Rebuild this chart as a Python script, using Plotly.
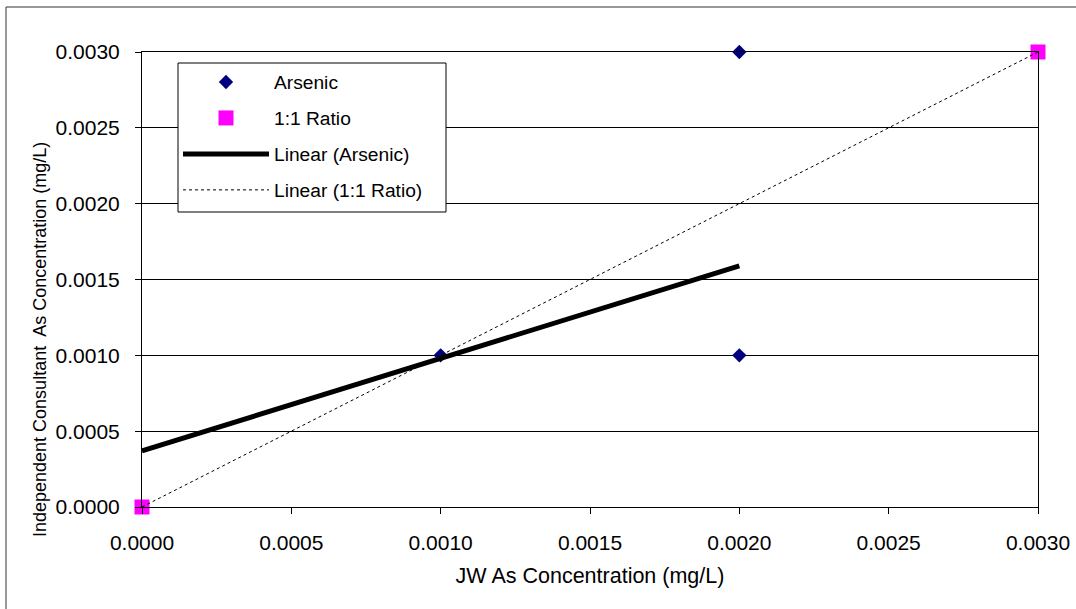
import plotly.graph_objects as go

# Data
arsenic_x = [0.0010, 0.0020, 0.0020]
arsenic_y = [0.0010, 0.0030, 0.0010]
ratio_x = [0.0000, 0.0030]
ratio_y = [0.0000, 0.0030]
trend_arsenic_x = [0.0000, 0.0020]
trend_arsenic_y = [0.00037, 0.00159]
trend_ratio_x = [0.0000, 0.0030]
trend_ratio_y = [0.0000, 0.0030]
tick_vals = [0.0, 0.0005, 0.0010, 0.0015, 0.0020, 0.0025, 0.0030]

FONT = "Liberation Sans, Arial, sans-serif"

fig = go.Figure()
fig.add_trace(go.Scatter(x=arsenic_x, y=arsenic_y, mode="markers", name="Arsenic",
                         legendgroup="a", cliponaxis=False,
                         marker=dict(symbol="diamond", size=11, color="#000080")))
fig.add_trace(go.Scatter(x=ratio_x, y=ratio_y, mode="markers", name="1:1 Ratio",
                         legendgroup="b", cliponaxis=False,
                         marker=dict(symbol="square", size=15, color="#FF00FF")))
fig.add_trace(go.Scatter(x=trend_arsenic_x, y=trend_arsenic_y, mode="lines",
                         name="Linear (Arsenic)", legendgroup="c", cliponaxis=False,
                         line=dict(color="black", width=5)))
fig.add_trace(go.Scatter(x=trend_ratio_x, y=trend_ratio_y, mode="lines",
                         name="Linear (1:1 Ratio)", legendgroup="d", cliponaxis=False,
                         line=dict(color="black", width=1, dash="dot")))

axis_common = dict(
    range=[0, 0.003], tickvals=tick_vals, tickformat=".4f",
    showline=True, linecolor="black", linewidth=1, mirror=True,
    ticks="outside", ticklen=6, tickcolor="black",
    tickfont=dict(family=FONT, size=21, color="black"),
    zeroline=False, automargin=False,
)

fig.update_xaxes(**axis_common, showgrid=False, ticklabelstandoff=11,
                 title=dict(text="JW As Concentration (mg/L)",
                            font=dict(family=FONT, size=21.5, color="black"),
                            standoff=14))
fig.update_yaxes(**axis_common, showgrid=True, gridcolor="black", gridwidth=1,
                 ticklabelstandoff=11)

L, T = 142, 52
PW, PH = 896, 455
W, H = 1076, 609


def px_x(p):
    return (p - L) / PW


def px_y(p):
    return (T + PH - p) / PH


# y-axis title (placed like the reference, centred lower than the plot area)
fig.add_annotation(text="Independent Consultant  As Concentration (mg/L)",
                   xref="paper", yref="paper", x=px_x(40), y=px_y(340),
                   textangle=-90, showarrow=False, xanchor="center", yanchor="middle",
                   font=dict(family=FONT, size=18, color="black"))

# outer chart border (top and left edges visible)
fig.add_shape(type="rect", xref="paper", yref="paper",
              x0=px_x(6), x1=1.2, y0=-0.4, y1=px_y(7),
              line=dict(color="#333333", width=1), layer="below")

# legend box
fig.add_shape(type="rect", xref="paper", yref="paper",
              x0=px_x(178), x1=px_x(446), y0=px_y(212), y1=px_y(63),
              line=dict(color="black", width=1), fillcolor="white", layer="above")

fig.update_layout(
    width=W, height=H,
    margin=dict(l=L, r=W - L - PW, t=T, b=H - T - PH, autoexpand=False),
    paper_bgcolor="white", plot_bgcolor="white",
    showlegend=True,
    legend=dict(x=px_x(178), y=px_y(63),
                xanchor="left", yanchor="top",
                bgcolor="rgba(0,0,0,0)", borderwidth=0,
                font=dict(family=FONT, size=19.2, color="black"),
                itemwidth=86, tracegroupgap=8),
)

fig.write_html("out.html", config={"displayModeBar": False},
               post_script="document.body.style.margin='0';document.body.style.overflow='hidden';")
